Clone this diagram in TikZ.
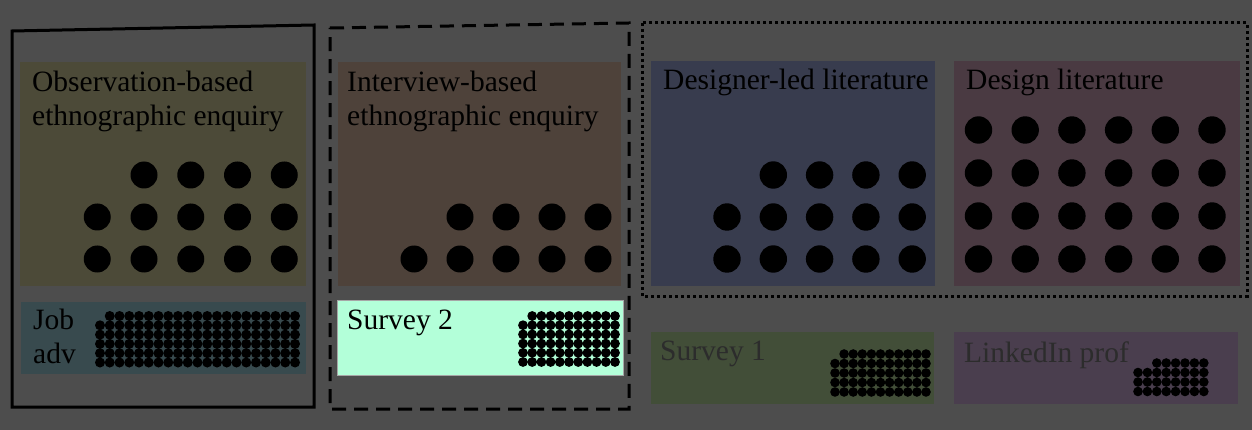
\documentclass[tikz,border=0pt]{standalone}
\usepackage{fontspec}
\setmainfont{Liberation Serif}
\definecolor{bgcol}{HTML}{4D4D4D}
\definecolor{obsfill}{HTML}{4C4A38}
\definecolor{intfill}{HTML}{4E423A}
\definecolor{dlfill}{HTML}{383C4E}
\definecolor{litfill}{HTML}{4A3A42}
\definecolor{jobfill}{HTML}{384A4E}
\definecolor{svtwofill}{HTML}{B3FFD9}
\definecolor{svonefill}{HTML}{424E38}
\definecolor{linfill}{HTML}{4A3E4E}
\definecolor{dimtext}{HTML}{2C2C2C}
% one row of dots: start x, step, last index, y, radius
\newcommand{\dotrow}[5]{\foreach \i in {0,...,#3}{\fill ({#1+\i*#2},#4) circle (#5);}}
\begin{document}
\begin{tikzpicture}[x=1pt,y=-1pt,
  lbl/.style={anchor=base west, inner sep=0pt, font=\fontsize{29.5}{34}\selectfont, align=left},
  dimlbl/.style={lbl, text=dimtext},
  groupline/.style={line width=3pt, black}]
\useasboundingbox (0,0) rectangle (1252,430);
\fill[bgcol] (0,0) rectangle (1252,430);

% coloured panels
\fill[obsfill]   (20,62)  rectangle (306,286);
\fill[intfill]   (338,62) rectangle (621,286);
\fill[dlfill]    (651,61) rectangle (935,286);
\fill[litfill]   (954,61) rectangle (1240,286);
\fill[jobfill]   (21,302) rectangle (306,374);
\fill[svtwofill, draw=gray!70, line width=0.8pt] (337,300) rectangle (623,375);
\fill[svonefill] (651,332) rectangle (934,404);
\fill[linfill]   (954,332) rectangle (1238,404);

% group outlines
\draw[groupline] (12,31) -- (314,25) -- (314,407) -- (12,407) -- cycle;
\draw[groupline, dash pattern=on 14pt off 8pt] (330,28) -- (629,23) -- (629,409) -- (330,409) -- cycle;
\draw[line width=3pt, dash pattern=on 3pt off 3pt] (642,23) rectangle (1247,296);

% labels (multi-line labels are anchored on their last baseline)
\node[lbl] (obs) at (32,126) {Observation-based\\ethnographic enquiry};
\node[lbl] (int) at (347,126) {Interview-based\\ethnographic enquiry};
\node[lbl] (dl)  at (663,90) {Designer-led literature};
\node[lbl] (lit) at (966,90) {Design literature};
\node[lbl] (job) at (33,363) {Job\\adv};
\node[lbl] (sv2) at (347,329) {Survey 2};
\node[dimlbl] (sv1) at (660,360) {Survey 1};
\node[dimlbl] (lin) at (964,362) {LinkedIn prof};

% large dot grids
\dotrow{144}{46.75}{3}{175}{13.5}
\dotrow{97.25}{46.75}{4}{217}{13.5}
\dotrow{97.25}{46.75}{4}{259}{13.5}

\dotrow{460}{46}{3}{217}{13.5}
\dotrow{414}{46}{4}{259}{13.5}

\dotrow{773.3}{46.3}{3}{175}{13.7}
\dotrow{727}{46.3}{4}{217}{13.7}
\dotrow{727}{46.3}{4}{259}{13.7}

\foreach \yy in {130,173,216,259}{\dotrow{978.5}{46.7}{5}{\yy}{13.7}}

% small dot grids
\dotrow{109.75}{9.75}{19}{316}{5}
\foreach \yy in {325.3,334.6,343.9,353.2,362.5}{\dotrow{100}{9.75}{20}{\yy}{5}}

\dotrow{532.2}{9.2}{9}{316}{4.9}
\foreach \yy in {325.2,334.4,343.6,352.8,362}{\dotrow{523}{9.2}{10}{\yy}{4.9}}

\dotrow{844.1}{9.1}{9}{354}{4.8}
\foreach \yy in {363.5,373,382.5,392}{\dotrow{835}{9.1}{10}{\yy}{4.8}}

\dotrow{1156.8}{9.4}{5}{363}{4.8}
\foreach \yy in {372.5,382,391.5}{\dotrow{1138}{9.4}{7}{\yy}{4.8}}
\end{tikzpicture}
\end{document}
